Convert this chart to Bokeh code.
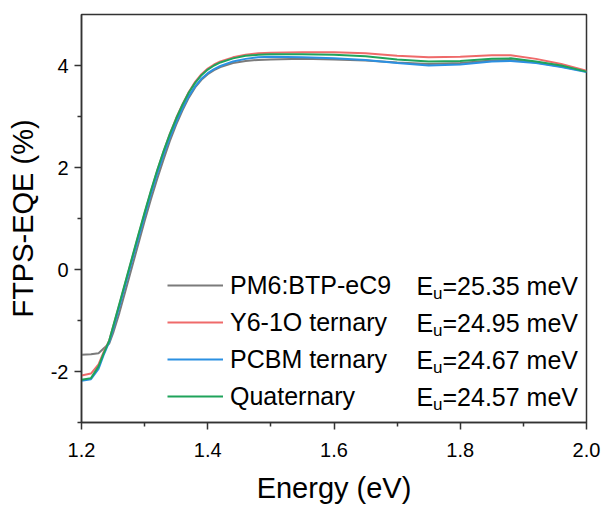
from bokeh.plotting import figure
from bokeh.models import Range1d, FixedTicker, Legend, LegendItem, Label
from bokeh.embed import file_html
from bokeh.resources import INLINE

# ---- data ----
energy = [1.20, 1.215, 1.227, 1.235, 1.244,
          1.25, 1.26, 1.27, 1.28, 1.29, 1.30, 1.31, 1.32, 1.33, 1.34, 1.35, 1.36,
          1.37, 1.38, 1.39, 1.40, 1.41, 1.42,
          1.44, 1.46, 1.48, 1.50,
          1.55, 1.60, 1.65, 1.70, 1.75, 1.80, 1.85, 1.88, 1.92, 1.96, 2.00]

pm6_btp = [-1.67, -1.66, -1.64, -1.55, -1.45,
           -1.25, -0.85, -0.40, 0.05, 0.50, 0.95, 1.38, 1.78, 2.16, 2.52, 2.84, 3.12,
           3.37, 3.57, 3.72, 3.83, 3.91, 3.97,
           4.05, 4.09, 4.11, 4.12,
           4.13, 4.12, 4.10, 4.06, 4.03, 4.05, 4.10, 4.11, 4.06, 3.98, 3.88]

y6_ternary = [-2.08, -2.04, -1.86, -1.62, -1.39,
              -1.13, -0.69, -0.24, 0.21, 0.66, 1.10, 1.53, 1.94, 2.31, 2.66, 2.97, 3.24,
              3.48, 3.68, 3.83, 3.94, 4.02, 4.08,
              4.16, 4.21, 4.24, 4.25,
              4.26, 4.26, 4.24, 4.19, 4.16, 4.17, 4.20, 4.20, 4.13, 4.03, 3.90]

pcbm_ternary = [-2.18, -2.15, -1.95, -1.68, -1.42,
                -1.17, -0.73, -0.28, 0.17, 0.61, 1.05, 1.48, 1.88, 2.25, 2.59, 2.89, 3.16,
                3.40, 3.59, 3.74, 3.85, 3.93, 3.99,
                4.08, 4.13, 4.16, 4.17,
                4.16, 4.14, 4.11, 4.05, 4.00, 4.02, 4.08, 4.09, 4.05, 3.97, 3.87]

quaternary = [-2.16, -2.13, -1.90, -1.65, -1.39,
              -1.12, -0.67, -0.22, 0.23, 0.68, 1.12, 1.55, 1.95, 2.32, 2.66, 2.96, 3.23,
              3.47, 3.66, 3.81, 3.92, 4.00, 4.06,
              4.14, 4.19, 4.21, 4.22,
              4.22, 4.21, 4.18, 4.12, 4.08, 4.09, 4.13, 4.14, 4.08, 4.00, 3.88]

series_names = ["PM6:BTP-eC9", "Y6-1O ternary", "PCBM ternary", "Quaternary"]
eu_values = ["25.35", "24.95", "24.67", "24.57"]
colors = ["#7b7b7b", "#ef6a6a", "#2b90e2", "#1fa35b"]

x_ticks = [1.2, 1.4, 1.6, 1.8, 2.0]
x_tick_labels = ["1.2", "1.4", "1.6", "1.8", "2.0"]
x_minor = [1.3, 1.5, 1.7, 1.9]
y_ticks = [-2, 0, 2, 4]
y_tick_labels = ["-2", "0", "2", "4"]
y_minor = [-3, -1, 1, 3]

X_RANGE = (1.2, 2.0)
Y_RANGE = (-3, 5)

# ---- layout ----
W, H = 605, 507
LEFT, RIGHT, TOP, BOTTOM = 81, 19, 14, 85
FONT = "Liberation Sans"

p = figure(width=W, height=H, output_backend="svg", toolbar_location=None,
           x_range=Range1d(*X_RANGE), y_range=Range1d(*Y_RANGE),
           min_border_left=LEFT, min_border_right=RIGHT,
           min_border_top=TOP, min_border_bottom=BOTTOM)
p.grid.visible = False
p.background_fill_color = "white"
p.border_fill_color = "white"
p.outline_line_color = "#333333"
p.outline_line_width = 1.5

for ax, ticks, minor, labels in ((p.xaxis[0], x_ticks, x_minor, x_tick_labels),
                                 (p.yaxis[0], y_ticks, y_minor, y_tick_labels)):
    ax.ticker = FixedTicker(ticks=ticks, minor_ticks=minor)
    ax.major_label_overrides = {t: l for t, l in zip(ticks, labels)}
    ax.axis_line_color = "#333333"
    ax.axis_line_width = 1.5
    ax.major_tick_line_color = "#333333"
    ax.minor_tick_line_color = "#333333"
    ax.major_tick_line_width = 1.5
    ax.minor_tick_line_width = 1.5
    ax.major_tick_in = 0
    ax.major_tick_out = 7
    ax.minor_tick_in = 0
    ax.minor_tick_out = 4
    ax.major_label_text_font = FONT
    ax.major_label_text_font_size = "20px"
    ax.major_label_text_color = "black"
    ax.axis_label_text_font = FONT
    ax.axis_label_text_font_size = "29px"
    ax.axis_label_text_font_style = "normal"
    ax.axis_label_text_color = "black"

p.xaxis.axis_label = "Energy (eV)"
p.yaxis.axis_label = "FTPS-EQE (%)"
p.xaxis.major_label_standoff = 13
p.xaxis.axis_label_standoff = 12
p.yaxis.major_label_standoff = 6
p.yaxis.axis_label_standoff = 9

all_series = [pm6_btp, y6_ternary, pcbm_ternary, quaternary]
renderers = []
for vals, c in zip(all_series, colors):
    r = p.line(energy, vals, line_color=c, line_width=2)
    renderers.append(r)

# ---- legend ----
ROW_H, ROW_GAP = 30, 7
legend = Legend(items=[LegendItem(label=n, renderers=[r]) for n, r in zip(series_names, renderers)],
                location=(86, 11), orientation="vertical",
                glyph_width=56, glyph_height=ROW_H, label_height=ROW_H,
                spacing=ROW_GAP, padding=0, margin=0, label_standoff=7,
                border_line_color=None, background_fill_alpha=0,
                label_text_font=FONT, label_text_font_size="25px",
                label_text_color="black")
p.add_layout(legend)

# Eu column, placed on the legend rows
frame_h = H - TOP - BOTTOM
frame_w = W - LEFT - RIGHT
legend_top_px = TOP + frame_h - 11 - (4 * ROW_H + 3 * ROW_GAP)
eu_x_px = 416
eu_x = X_RANGE[0] + (eu_x_px - LEFT) / frame_w * (X_RANGE[1] - X_RANGE[0])
for i, ev in enumerate(eu_values):
    cy_px = legend_top_px + ROW_H / 2 + i * (ROW_H + ROW_GAP)
    cy = Y_RANGE[1] - (cy_px - TOP) / frame_h * (Y_RANGE[1] - Y_RANGE[0])
    common = dict(x=eu_x, y=cy, text_baseline="middle", text_align="left",
                  text_font=FONT, text_color="black")
    p.add_layout(Label(text="E", text_font_size="25px", **common))
    p.add_layout(Label(text="u", text_font_size="17px", x_offset=16.5, y_offset=-8, **common))
    p.add_layout(Label(text="=" + ev + " meV", text_font_size="25px", x_offset=26, **common))

open("out.html", "w").write(file_html(p, INLINE))
